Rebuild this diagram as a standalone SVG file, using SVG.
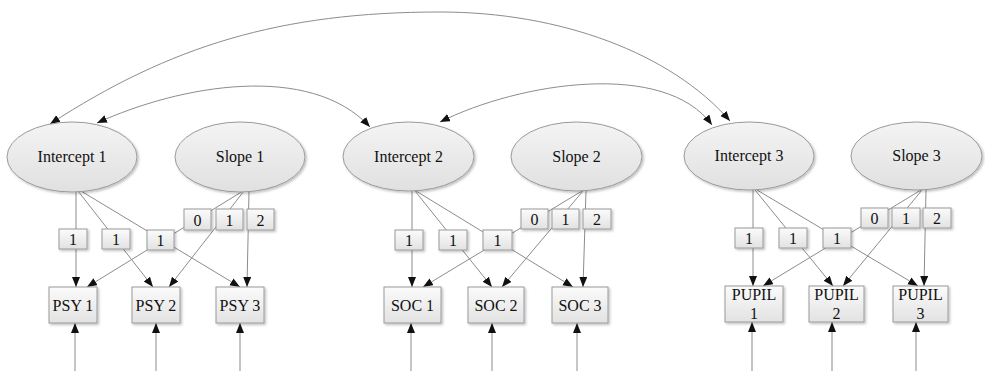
<svg xmlns="http://www.w3.org/2000/svg" width="985" height="371" viewBox="0 0 985 371">
  <defs>
    <linearGradient id="boxFill" x1="0" y1="0" x2="0" y2="1">
      <stop offset="0" stop-color="#fbfbfb"/>
      <stop offset="1" stop-color="#e2e2e2"/>
    </linearGradient>
    <linearGradient id="ellFill" x1="0" y1="0" x2="0" y2="1">
      <stop offset="0" stop-color="#f4f4f4"/>
      <stop offset="1" stop-color="#e0e0e0"/>
    </linearGradient>
    <filter id="shadow" x="-20%" y="-20%" width="140%" height="150%">
      <feDropShadow dx="1.5" dy="1.5" stdDeviation="1" flood-color="#000" flood-opacity="0.25"/>
    </filter>
    <marker id="arrow" markerUnits="userSpaceOnUse" markerWidth="11" markerHeight="9" refX="10" refY="4" orient="auto-start-reverse" viewBox="0 0 11 9">
      <path d="M0,0 L10,4 L0,8 z" fill="#111"/>
    </marker>
    <style>
      .ell { fill: url(#ellFill); stroke: #9a9a9a; stroke-width: 1; filter: url(#shadow); }
      .box { fill: url(#boxFill); stroke: #9a9a9a; stroke-width: 1; filter: url(#shadow); }
      .lbl { fill: url(#boxFill); stroke: #9a9a9a; stroke-width: 1; filter: url(#shadow); }
      .txt { font-family: "Liberation Serif", "Times New Roman", serif; font-size: 16px; fill: #111; text-anchor: middle; }
      .edge { fill: none; stroke: #8c8c8c; stroke-width: 1; marker-end: url(#arrow); }
      .arc { fill: none; stroke: #8c8c8c; stroke-width: 1; marker-start: url(#arrow); marker-end: url(#arrow); }
    </style>
  </defs>
  <rect width="985" height="371" fill="#ffffff"/>

  <!-- connectors -->
  <g id="connectors">
    <!-- covariances between intercepts -->
    <path class="arc" d="M50,124 C170,46 280,12 440,12 C560,12 671,53 730,121"/>
    <path class="arc" d="M97,123 C180,85 310,62 370,127"/>
    <path class="arc" d="M440,122 C520,82 665,60 712,125"/>

    <!-- PSY block -->
    <path class="edge" d="M76,191 L76,287"/>
    <path class="edge" d="M78,191 L153,287"/>
    <path class="edge" d="M81,191 L240,287"/>
    <path class="edge" d="M243,191 L87,287"/>
    <path class="edge" d="M244,191 L169,287"/>
    <path class="edge" d="M249,191 L247,287"/>
    <path class="edge" d="M75,371 L75,323"/>
    <path class="edge" d="M156,371 L156,323"/>
    <path class="edge" d="M240,371 L240,323"/>

    <!-- SOC block -->
    <path class="edge" d="M412,191 L412,287"/>
    <path class="edge" d="M415,191 L492,287"/>
    <path class="edge" d="M416,191 L573,287"/>
    <path class="edge" d="M582,191 L423,287"/>
    <path class="edge" d="M583,191 L502,287"/>
    <path class="edge" d="M586,191 L583,287"/>
    <path class="edge" d="M411,371 L411,323"/>
    <path class="edge" d="M492,371 L492,323"/>
    <path class="edge" d="M577,371 L577,323"/>

    <!-- PUPIL block -->
    <path class="edge" d="M753,190 L753,286"/>
    <path class="edge" d="M755,190 L833,286"/>
    <path class="edge" d="M757,190 L918,286"/>
    <path class="edge" d="M921,190 L763,286"/>
    <path class="edge" d="M922,190 L843,286"/>
    <path class="edge" d="M926,190 L924,286"/>
    <path class="edge" d="M752,371 L752,322"/>
    <path class="edge" d="M832,371 L832,322"/>
    <path class="edge" d="M916,371 L916,322"/>
  </g>

  <!-- loading labels -->
  <g id="loadings">
    <rect class="lbl" x="59" y="229" width="28" height="20"/><text class="txt" x="73" y="245">1</text>
    <rect class="lbl" x="102" y="229" width="28" height="20"/><text class="txt" x="116" y="245">1</text>
    <rect class="lbl" x="147" y="230" width="27" height="20"/><text class="txt" x="160.5" y="246">1</text>
    <rect class="lbl" x="184" y="209" width="27" height="21"/><text class="txt" x="197.5" y="226">0</text>
    <rect class="lbl" x="216" y="209" width="27" height="21"/><text class="txt" x="229.5" y="226">1</text>
    <rect class="lbl" x="247" y="209" width="27" height="21"/><text class="txt" x="260.5" y="226">2</text>

    <rect class="lbl" x="395" y="230" width="28" height="20"/><text class="txt" x="409" y="246">1</text>
    <rect class="lbl" x="439" y="230" width="28" height="20"/><text class="txt" x="453" y="246">1</text>
    <rect class="lbl" x="483" y="230" width="29" height="20"/><text class="txt" x="497.5" y="246">1</text>
    <rect class="lbl" x="521" y="209" width="27" height="20"/><text class="txt" x="534.5" y="225">0</text>
    <rect class="lbl" x="552" y="209" width="27" height="20"/><text class="txt" x="565.5" y="225">1</text>
    <rect class="lbl" x="583" y="209" width="28" height="20"/><text class="txt" x="597" y="225">2</text>

    <rect class="lbl" x="735" y="228" width="28" height="20"/><text class="txt" x="749" y="244">1</text>
    <rect class="lbl" x="779" y="228" width="28" height="20"/><text class="txt" x="793" y="244">1</text>
    <rect class="lbl" x="823" y="228" width="28" height="20"/><text class="txt" x="837" y="244">1</text>
    <rect class="lbl" x="861" y="208" width="27" height="20"/><text class="txt" x="874.5" y="224">0</text>
    <rect class="lbl" x="892" y="208" width="28" height="20"/><text class="txt" x="906" y="224">1</text>
    <rect class="lbl" x="923" y="208" width="28" height="20"/><text class="txt" x="937" y="224">2</text>
  </g>

  <!-- latent factors -->
  <g id="intercept1"><ellipse class="ell" cx="72" cy="157" rx="65" ry="35"/><text class="txt" x="72" y="162">Intercept 1</text></g>
  <g id="slope1"><ellipse class="ell" cx="240" cy="157" rx="65" ry="35"/><text class="txt" x="240" y="162">Slope 1</text></g>
  <g id="intercept2"><ellipse class="ell" cx="408.5" cy="156.5" rx="65.5" ry="34.5"/><text class="txt" x="408.5" y="162">Intercept 2</text></g>
  <g id="slope2"><ellipse class="ell" cx="576.5" cy="156.5" rx="65.5" ry="34.5"/><text class="txt" x="576.5" y="162">Slope 2</text></g>
  <g id="intercept3"><ellipse class="ell" cx="749" cy="156" rx="65" ry="34"/><text class="txt" x="749" y="161">Intercept 3</text></g>
  <g id="slope3"><ellipse class="ell" cx="916.5" cy="156" rx="65.5" ry="34"/><text class="txt" x="916.5" y="161">Slope 3</text></g>

  <!-- observed measures -->
  <g id="psy1"><rect class="box" x="49" y="287" width="48" height="36"/><text class="txt" x="73" y="311">PSY 1</text></g>
  <g id="psy2"><rect class="box" x="132" y="287" width="48" height="36"/><text class="txt" x="156" y="311">PSY 2</text></g>
  <g id="psy3"><rect class="box" x="216" y="287" width="48" height="36"/><text class="txt" x="240" y="311">PSY 3</text></g>

  <g id="soc1"><rect class="box" x="384" y="287" width="57" height="36"/><text class="txt" x="412.5" y="311">SOC 1</text></g>
  <g id="soc2"><rect class="box" x="468" y="287" width="56" height="36"/><text class="txt" x="496" y="311">SOC 2</text></g>
  <g id="soc3"><rect class="box" x="552" y="287" width="56" height="36"/><text class="txt" x="580" y="311">SOC 3</text></g>

  <g id="pupil1"><rect class="box" x="725" y="286" width="58" height="36"/><text class="txt" x="754" y="300">PUPIL</text><text class="txt" x="754" y="319">1</text></g>
  <g id="pupil2"><rect class="box" x="809" y="286" width="55" height="36"/><text class="txt" x="836.5" y="300">PUPIL</text><text class="txt" x="836.5" y="319">2</text></g>
  <g id="pupil3"><rect class="box" x="893" y="286" width="55" height="36"/><text class="txt" x="920.5" y="300">PUPIL</text><text class="txt" x="920.5" y="319">3</text></g>
</svg>
